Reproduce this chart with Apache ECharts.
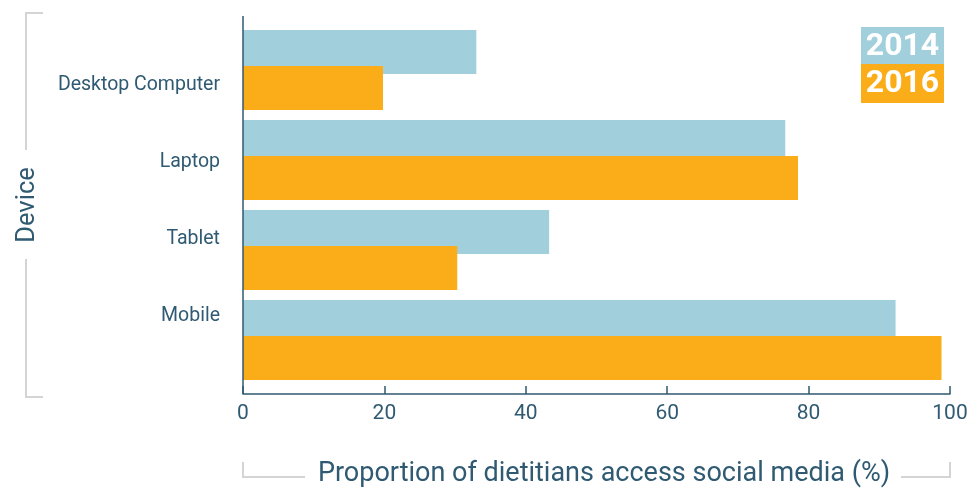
<!DOCTYPE html>
<html>
<head>
<meta charset="utf-8">
<script src="https://cdn.jsdelivr.net/npm/echarts@6/dist/echarts.min.js"></script>
<style>
html, body { margin: 0; padding: 0; background: #fff; }
#chart { width: 971px; height: 490px; }
</style>
</head>
<body>
<div id="chart"></div>
<script>
const devices = ['Desktop Computer', 'Laptop', 'Tablet', 'Mobile'];
const years = ['2014', '2016'];
const values2014 = [33.0, 76.7, 43.3, 92.3];
const values2016 = [19.8, 78.5, 30.3, 98.8];
const xTicks = [0, 20, 40, 60, 80, 100];

const colors = ['#a1cfdb', '#faad18'];
const ink = '#2f5a72';
const bracket = '#d4d4d4';
const font = 'Roboto';

const chart = echarts.init(document.getElementById('chart'));

// legend boxes: coloured block with the year in white
const legendBoxes = years.map((y, i) => ({
    type: 'group',
    left: 861,
    top: i === 0 ? 27 : 64,
    children: [
        { type: 'rect', shape: { x: 0, y: 0, width: 83, height: i === 0 ? 37 : 39 }, style: { fill: colors[i] } },
        {
            type: 'text',
            x: 41.5,
            y: 20,
            style: {
                text: y,
                fill: '#fff',
                font: 'bold 32px ' + font,
                align: 'center',
                verticalAlign: 'middle'
            }
        }
    ]
}));

const option = {
    animation: false,
    grid: [
        { left: 243, right: 21, top: 25, height: 360, outerBoundsMode: 'none' },
        // the device labels sit on their own, tighter spacing
        { left: 243, right: 21, top: 46.5, height: 308, outerBoundsMode: 'none' }
    ],
    xAxis: [
        {
            type: 'value',
            gridIndex: 0,
            min: xTicks[0],
            max: xTicks[xTicks.length - 1],
            interval: 20,
            offset: 9,
            splitLine: { show: false },
            axisLine: { show: true, lineStyle: { color: ink, width: 1.5 } },
            axisTick: { show: true, inside: true, length: 8, lineStyle: { color: ink, width: 1.5 } },
            axisLabel: { color: ink, fontFamily: font, fontSize: 21, margin: 9 },
            name: 'Proportion of dietitians access social media (%)',
            nameLocation: 'middle',
            nameGap: 67,
            nameTextStyle: { color: ink, fontFamily: font, fontSize: 27, padding: [0, 0, 0, 15] }
        },
        { type: 'value', gridIndex: 1, show: false, min: 0, max: 100 }
    ],
    yAxis: [
        {
            type: 'category',
            gridIndex: 0,
            inverse: true,
            data: devices,
            axisLine: { show: false },
            axisTick: { show: false },
            axisLabel: { show: false },
            name: 'Device',
            nameLocation: 'middle',
            nameRotate: 90,
            nameGap: 202,
            nameTextStyle: { color: ink, fontFamily: font, fontSize: 25.5 }
        },
        {
            type: 'category',
            gridIndex: 1,
            inverse: true,
            data: devices,
            axisLine: { show: false },
            axisTick: { show: false },
            axisLabel: { color: ink, fontFamily: font, fontSize: 19.5, margin: 23 }
        }
    ],
    series: [
        {
            name: years[0],
            type: 'bar',
            data: values2014,
            barWidth: 44,
            barGap: '-18%',
            itemStyle: { color: colors[0] }
        },
        {
            name: years[1],
            type: 'bar',
            data: values2016,
            barWidth: 44,
            barGap: '-18%',
            itemStyle: { color: colors[1] }
        }
    ],
    graphic: [
        // y axis line spans past the category bands
        { type: 'line', shape: { x1: 243, y1: 16, x2: 243, y2: 394 }, style: { stroke: ink, lineWidth: 1.5 }, z: 10 },
        // brackets around axis titles
        { type: 'polyline', shape: { points: [[43, 13], [26, 13], [26, 150]] }, style: { stroke: bracket, lineWidth: 2, fill: null } },
        { type: 'polyline', shape: { points: [[26, 259], [26, 397], [43, 397]] }, style: { stroke: bracket, lineWidth: 2, fill: null } },
        { type: 'polyline', shape: { points: [[243, 462], [243, 477], [305, 477]] }, style: { stroke: bracket, lineWidth: 2, fill: null } },
        { type: 'polyline', shape: { points: [[901, 477], [950, 477], [950, 462]] }, style: { stroke: bracket, lineWidth: 2, fill: null } },
        ...legendBoxes
    ]
};

chart.setOption(option);
</script>
</body>
</html>
